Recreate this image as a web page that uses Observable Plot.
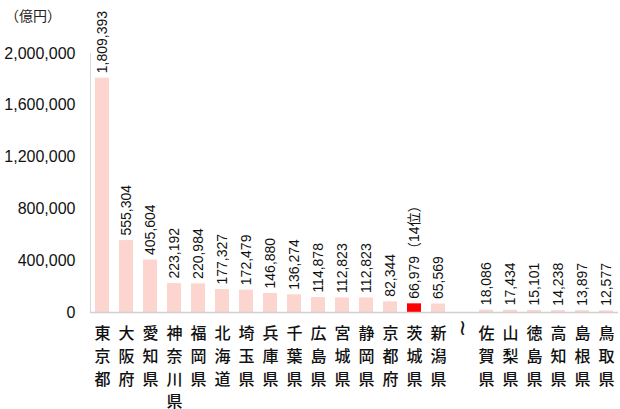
<!DOCTYPE html>
<html>
<head>
<meta charset="utf-8">
<script src="https://cdn.jsdelivr.net/npm/d3@7"></script>
<script src="https://cdn.jsdelivr.net/npm/@observablehq/plot@0.6"></script>
<style>
  html, body { margin: 0; padding: 0; background: #fff; }
  #chart { position: relative; width: 620px; height: 409px; overflow: hidden; }
  #unit { position: absolute; left: 5px; top: 5px; font: 14px "Noto Sans CJK JP", sans-serif; color: #222; }
</style>
</head>
<body>
<div id="chart"><div id="unit">（億円）</div></div>
<script>
const GAP = "__gap__";
const prefectures = ["東京都","大阪府","愛知県","神奈川県","福岡県","北海道","埼玉県","兵庫県","千葉県","広島県","宮城県","静岡県","京都府","茨城県","新潟県","佐賀県","山梨県","徳島県","高知県","島根県","鳥取県"];
const values = [1809393,555304,405604,223192,220984,177327,172479,146880,136274,114878,112823,112823,82344,66979,65569,18086,17434,15101,14238,13897,12577];
const highlight = "茨城県";
const highlightNote = "（14位）";
const yTicks = [0,400000,800000,1200000,1600000,2000000];

const domain = [...prefectures.slice(0,15), GAP, ...prefectures.slice(15)];
const data = prefectures.map((p,i) => ({pref: p, value: values[i]}));
const fmt = d3.format(",");

const plot = Plot.plot({
  width: 620,
  height: 409,
  marginLeft: 90,
  marginRight: 2,
  marginTop: 53,
  marginBottom: 97,
  style: {fontFamily: "'Liberation Sans', Arial, sans-serif", background: "transparent", overflow: "hidden"},
  x: {domain, paddingInner: 0.42, paddingOuter: 0.21},
  y: {domain: [0, 2000000]},
  marks: [
    Plot.gridY(yTicks, {stroke: "#d9d9d9", strokeOpacity: 1, x1: 90, x2: 620}),
    Plot.frame({anchor: "left", stroke: "#d9d9d9"}),
    Plot.barY(data, {x: "pref", y: "value", fill: d => d.pref === highlight ? "#ff0000" : "#fcd5cf"}),
    Plot.ruleY([0], {stroke: "#d0d0d0", strokeWidth: 1.5}),
    Plot.text(data, {
      x: "pref", y: "value",
      text: d => fmt(d.value) + (d.pref === highlight ? highlightNote : ""),
      rotate: -90, textAnchor: "start", dy: -5,
      fontSize: 14, fill: "#111",
      fontFamily: "Arimo, 'Liberation Sans', 'Noto Sans CJK JP', sans-serif"
    }),
    Plot.axisY(yTicks, {
      tickSize: 0, tickPadding: 15, fontSize: 16, fill: "#111",
      tickFormat: fmt, label: null
    }),
    Plot.axisX(prefectures, {
      tickSize: 0, tickPadding: 10, fontSize: 16, fill: "#111",
      lineHeight: 1.43, lineAnchor: "top", fontWeight: 500,
      fontFamily: "'Noto Sans CJK JP', sans-serif",
      tickFormat: d => [...d].join("\n"),
      label: null
    }),
    Plot.axisX([GAP], {
      tickSize: 0, tickPadding: 7, fontSize: 22, fill: "#111",
      lineAnchor: "top", fontFamily: "'DejaVu Sans', sans-serif",
      tickFormat: () => "≀",
      label: null
    })
  ]
});
document.getElementById("chart").appendChild(plot);
</script>
</body>
</html>
